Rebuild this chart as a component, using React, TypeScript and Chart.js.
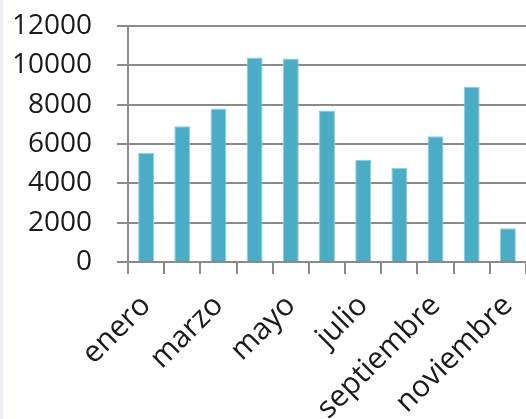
import { useEffect, useRef } from 'react';
import { Chart, registerables } from 'chart.js';

Chart.register(...registerables);

const months = ['enero', 'febrero', 'marzo', 'abril', 'mayo', 'junio', 'julio', 'agosto', 'septiembre', 'octubre', 'noviembre'];
const values = [5550, 6900, 7800, 10400, 10350, 7700, 5200, 4780, 6400, 8900, 1720];
const yMin = 0;
const yMax = 12000;
const yStep = 2000;

export default function App() {
  const ref = useRef<HTMLCanvasElement>(null);
  useEffect(() => {
    document.body.style.margin = '0';
    const yFont = { family: '"Open Sans", sans-serif', size: 28 };
    const xFont = { family: '"Open Sans", sans-serif', size: 30 };
    const chart = new Chart(ref.current!, {
      type: 'bar',
      data: {
        labels: months,
        datasets: [
          {
            data: values,
            backgroundColor: '#4BACC6',
            borderColor: '#8ccfe0',
            borderWidth: 1,
            barPercentage: 0.44,
            categoryPercentage: 1,
          },
        ],
      },
      options: {
        animation: false,
        responsive: false,
        maintainAspectRatio: false,
        layout: { padding: { top: 26, right: -3, left: 0, bottom: 0 } },
        plugins: { legend: { display: false }, tooltip: { enabled: false } },
        scales: {
          x: {
            grid: { display: true, drawOnChartArea: false, drawTicks: true, tickLength: 12, color: '#8a8a8a', lineWidth: 2, offset: true },
            border: { color: '#8a8a8a', width: 2 },
            ticks: {
              autoSkip: false,
              maxRotation: 45,
              minRotation: 45,
              padding: 14,
              color: '#1a1a1a',
              font: xFont,
              callback: (_v: any, i: number) => (i % 2 === 0 ? months[i] : ''),
            },
            afterFit: (s: any) => {
              s.height = 157;
              s.paddingLeft = 0;
              s.paddingRight = 0;
            },
          },
          y: {
            min: yMin,
            max: yMax,
            ticks: { stepSize: yStep, padding: 25, color: '#1a1a1a', font: yFont, callback: (v: any) => String(v) },
            grid: { color: '#8a8a8a', lineWidth: 2, tickLength: 11 },
            border: { color: '#8a8a8a', width: 2 },
            afterFit: (s: any) => {
              s.width = 128;
              s.paddingTop = 0;
              s.paddingBottom = 0;
            },
          },
        },
      },
    });
    return () => chart.destroy();
  }, []);
  return (
    <div style={{ position: 'fixed', left: 0, top: 0, width: 526, height: 419, background: '#fff', overflow: 'hidden' }}>
      <canvas ref={ref} width={526} height={419} style={{ display: 'block' }} />
      <div style={{ position: 'absolute', left: 0, top: 0, width: 3, height: 419, background: '#edf1f6' }} />
    </div>
  );
}
